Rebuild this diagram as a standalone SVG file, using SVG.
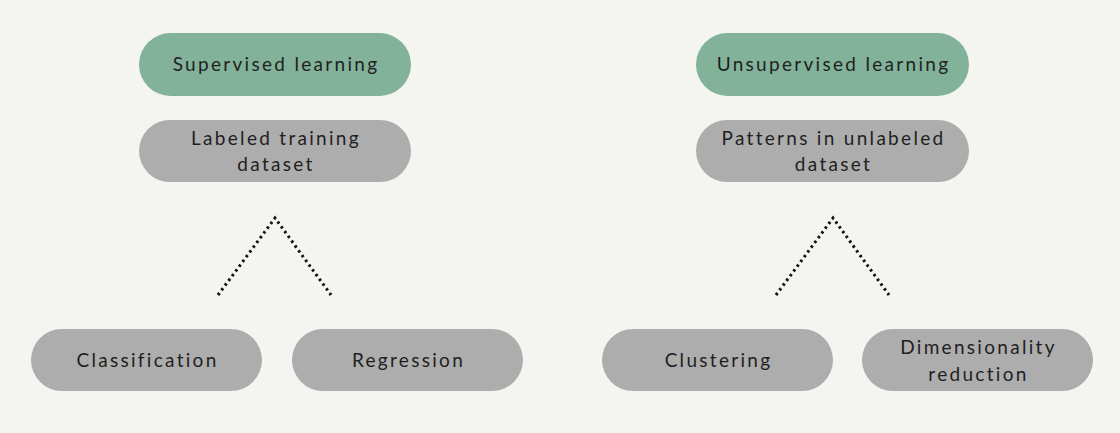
<svg xmlns="http://www.w3.org/2000/svg" width="1120" height="433" viewBox="0 0 1120 433">
<style>
.g{fill:#82b29a}
.n{fill:#adadad}
text{font-family:Lato,"Open Sans","Liberation Sans",sans-serif;font-size:19px;fill:#1f1f1f;text-anchor:middle;letter-spacing:2.3px}
.c{fill:none;stroke:#111;stroke-width:3;stroke-dasharray:2.5 3.4}
</style>
<rect width="1120" height="433" fill="#f4f5f0"/>
<g id="connectors">
<polyline class="c" points="218,295 275,218 331,295"/>
<polyline class="c" points="776,295 833,218 889,295"/>
</g>
<g id="supervised"><rect class="g" x="139" y="33" width="272" height="63" rx="31.5"/><text x="276" y="71">Supervised learning</text></g>
<g id="labeled"><rect class="n" x="139" y="120" width="272" height="62" rx="31"/><text x="276" y="145">Labeled training</text><text x="276" y="171">dataset</text></g>
<g id="unsupervised"><rect class="g" x="696" y="33" width="273" height="63" rx="31.5"/><text x="833.5" y="71">Unsupervised learning</text></g>
<g id="patterns"><rect class="n" x="696" y="120" width="273" height="62" rx="31"/><text x="833.5" y="145">Patterns in unlabeled</text><text x="833.5" y="171">dataset</text></g>
<g id="classification"><rect class="n" x="31" y="329" width="231" height="62" rx="31"/><text x="147.5" y="367">Classification</text></g>
<g id="regression"><rect class="n" x="292" y="329" width="231" height="62" rx="31"/><text x="408.5" y="367">Regression</text></g>
<g id="clustering"><rect class="n" x="602" y="329" width="231" height="62" rx="31"/><text x="718.5" y="367">Clustering</text></g>
<g id="dimred"><rect class="n" x="862" y="329" width="231" height="62" rx="31"/><text x="978.5" y="354">Dimensionality</text><text x="978.5" y="381">reduction</text></g>
</svg>
